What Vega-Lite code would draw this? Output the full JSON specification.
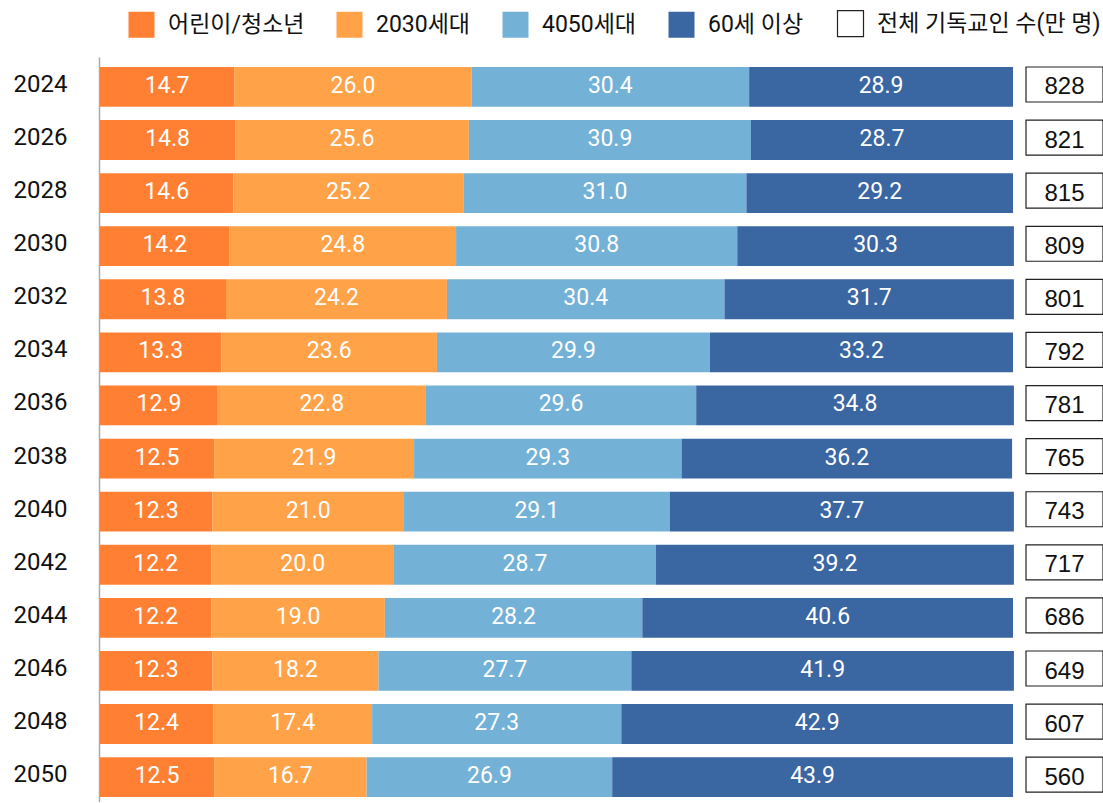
{
  "$schema": "https://vega.github.io/schema/vega-lite/v6.json",
  "padding": {"left": 13, "top": 12, "right": 1, "bottom": 0},
  "background": "white",
  "datasets": {
    "shares": [
      {"year": "2024", "group": "어린이/청소년", "o": 1, "v": 14.7},
      {"year": "2024", "group": "2030세대", "o": 2, "v": 26.0},
      {"year": "2024", "group": "4050세대", "o": 3, "v": 30.4},
      {"year": "2024", "group": "60세 이상", "o": 4, "v": 28.9},
      {"year": "2026", "group": "어린이/청소년", "o": 1, "v": 14.8},
      {"year": "2026", "group": "2030세대", "o": 2, "v": 25.6},
      {"year": "2026", "group": "4050세대", "o": 3, "v": 30.9},
      {"year": "2026", "group": "60세 이상", "o": 4, "v": 28.7},
      {"year": "2028", "group": "어린이/청소년", "o": 1, "v": 14.6},
      {"year": "2028", "group": "2030세대", "o": 2, "v": 25.2},
      {"year": "2028", "group": "4050세대", "o": 3, "v": 31.0},
      {"year": "2028", "group": "60세 이상", "o": 4, "v": 29.2},
      {"year": "2030", "group": "어린이/청소년", "o": 1, "v": 14.2},
      {"year": "2030", "group": "2030세대", "o": 2, "v": 24.8},
      {"year": "2030", "group": "4050세대", "o": 3, "v": 30.8},
      {"year": "2030", "group": "60세 이상", "o": 4, "v": 30.3},
      {"year": "2032", "group": "어린이/청소년", "o": 1, "v": 13.8},
      {"year": "2032", "group": "2030세대", "o": 2, "v": 24.2},
      {"year": "2032", "group": "4050세대", "o": 3, "v": 30.4},
      {"year": "2032", "group": "60세 이상", "o": 4, "v": 31.7},
      {"year": "2034", "group": "어린이/청소년", "o": 1, "v": 13.3},
      {"year": "2034", "group": "2030세대", "o": 2, "v": 23.6},
      {"year": "2034", "group": "4050세대", "o": 3, "v": 29.9},
      {"year": "2034", "group": "60세 이상", "o": 4, "v": 33.2},
      {"year": "2036", "group": "어린이/청소년", "o": 1, "v": 12.9},
      {"year": "2036", "group": "2030세대", "o": 2, "v": 22.8},
      {"year": "2036", "group": "4050세대", "o": 3, "v": 29.6},
      {"year": "2036", "group": "60세 이상", "o": 4, "v": 34.8},
      {"year": "2038", "group": "어린이/청소년", "o": 1, "v": 12.5},
      {"year": "2038", "group": "2030세대", "o": 2, "v": 21.9},
      {"year": "2038", "group": "4050세대", "o": 3, "v": 29.3},
      {"year": "2038", "group": "60세 이상", "o": 4, "v": 36.2},
      {"year": "2040", "group": "어린이/청소년", "o": 1, "v": 12.3},
      {"year": "2040", "group": "2030세대", "o": 2, "v": 21.0},
      {"year": "2040", "group": "4050세대", "o": 3, "v": 29.1},
      {"year": "2040", "group": "60세 이상", "o": 4, "v": 37.7},
      {"year": "2042", "group": "어린이/청소년", "o": 1, "v": 12.2},
      {"year": "2042", "group": "2030세대", "o": 2, "v": 20.0},
      {"year": "2042", "group": "4050세대", "o": 3, "v": 28.7},
      {"year": "2042", "group": "60세 이상", "o": 4, "v": 39.2},
      {"year": "2044", "group": "어린이/청소년", "o": 1, "v": 12.2},
      {"year": "2044", "group": "2030세대", "o": 2, "v": 19.0},
      {"year": "2044", "group": "4050세대", "o": 3, "v": 28.2},
      {"year": "2044", "group": "60세 이상", "o": 4, "v": 40.6},
      {"year": "2046", "group": "어린이/청소년", "o": 1, "v": 12.3},
      {"year": "2046", "group": "2030세대", "o": 2, "v": 18.2},
      {"year": "2046", "group": "4050세대", "o": 3, "v": 27.7},
      {"year": "2046", "group": "60세 이상", "o": 4, "v": 41.9},
      {"year": "2048", "group": "어린이/청소년", "o": 1, "v": 12.4},
      {"year": "2048", "group": "2030세대", "o": 2, "v": 17.4},
      {"year": "2048", "group": "4050세대", "o": 3, "v": 27.3},
      {"year": "2048", "group": "60세 이상", "o": 4, "v": 42.9},
      {"year": "2050", "group": "어린이/청소년", "o": 1, "v": 12.5},
      {"year": "2050", "group": "2030세대", "o": 2, "v": 16.7},
      {"year": "2050", "group": "4050세대", "o": 3, "v": 26.9},
      {"year": "2050", "group": "60세 이상", "o": 4, "v": 43.9}
    ],
    "totals": [
      {"year": "2024", "total": 828},
      {"year": "2026", "total": 821},
      {"year": "2028", "total": 815},
      {"year": "2030", "total": 809},
      {"year": "2032", "total": 801},
      {"year": "2034", "total": 792},
      {"year": "2036", "total": 781},
      {"year": "2038", "total": 765},
      {"year": "2040", "total": 743},
      {"year": "2042", "total": 717},
      {"year": "2044", "total": 686},
      {"year": "2046", "total": 649},
      {"year": "2048", "total": 607},
      {"year": "2050", "total": 560}
    ]
  },
  "hconcat": [
    {
      "width": 913,
      "height": 745,
      "data": {"name": "shares"},
      "transform": [
        {"stack": "v", "groupby": ["year"], "sort": [{"field": "o", "order": "ascending"}], "as": ["x0", "x1"]},
        {"calculate": "(datum.x0 + datum.x1) / 2", "as": "xm"}
      ],
      "encoding": {
        "y": {
          "field": "year",
          "type": "ordinal",
          "scale": {"paddingInner": 0.25, "paddingOuter": 0.141, "align": 0.667},
          "axis": {
            "title": null,
            "ticks": false,
            "labelFont": "Roboto",
            "labelFontSize": 24,
            "labelColor": "#111111",
            "labelPadding": 32,
            "labelOffset": -2,
            "domainColor": "#aaaaaa",
            "domainWidth": 1.5,
            "offset": 1,
            "grid": false
          }
        }
      },
      "layer": [
        {
          "mark": {"type": "bar", "strokeWidth": 0},
          "encoding": {
            "x": {"field": "x0", "type": "quantitative", "scale": {"domain": [0, 100], "nice": false, "zero": true}, "axis": null},
            "x2": {"field": "x1"},
            "color": {
              "field": "group",
              "type": "nominal",
              "scale": {
                "domain": ["어린이/청소년", "2030세대", "4050세대", "60세 이상", "전체 기독교인 수(만 명)"],
                "range": ["#FF8033", "#FFA248", "#73B1D7", "#3A66A2", "#ffffff"]
              },
              "legend": {
                "orient": "none",
                "legendX": 30,
                "legendY": -45,
                "direction": "horizontal",
                "title": null,
                "encode": {
                  "symbols": {
                    "update": {
                      "stroke": {"value": "#222222"},
                      "strokeWidth": {"signal": "datum.value === '전체 기독교인 수(만 명)' ? 1.2 : 0"}
                    }
                  }
                }
              }
            }
          }
        },
        {
          "mark": {"type": "text", "font": "Roboto", "fontSize": 23, "color": "white", "align": "center", "baseline": "middle", "dy": -1},
          "encoding": {
            "x": {"field": "xm", "type": "quantitative"},
            "text": {"field": "v", "type": "quantitative", "format": ".1f"}
          }
        }
      ]
    },
    {
      "width": 77,
      "height": 745,
      "data": {"name": "totals"},
      "encoding": {
        "y": {
          "field": "year",
          "type": "ordinal",
          "scale": {"paddingInner": 0.341, "paddingOuter": 0.1865, "align": 0.505},
          "axis": null
        }
      },
      "layer": [
        {
          "mark": {"type": "bar", "stroke": "#222222", "strokeWidth": 1.2},
          "encoding": {
            "x": {"datum": 0, "type": "quantitative", "scale": {"domain": [0, 1], "nice": false}, "axis": null},
            "x2": {"datum": 1},
            "color": {
              "datum": "전체 기독교인 수(만 명)",
              "type": "nominal",
              "scale": {
                "domain": ["어린이/청소년", "2030세대", "4050세대", "60세 이상", "전체 기독교인 수(만 명)"],
                "range": ["#FF8033", "#FFA248", "#73B1D7", "#3A66A2", "#ffffff"]
              },
              "legend": {
                "orient": "none",
                "legendX": 30,
                "legendY": -45,
                "direction": "horizontal",
                "title": null,
                "encode": {
                  "symbols": {
                    "update": {
                      "stroke": {"value": "#222222"},
                      "strokeWidth": {"signal": "datum.value === '전체 기독교인 수(만 명)' ? 1.2 : 0"}
                    }
                  }
                }
              }
            }
          }
        },
        {
          "mark": {"type": "text", "font": "Liberation Sans", "fontSize": 24, "color": "#111111", "align": "center", "baseline": "middle", "dy": 3},
          "encoding": {
            "x": {"datum": 0.5, "type": "quantitative"},
            "text": {"field": "total", "type": "quantitative"}
          }
        }
      ]
    }
  ],
  "spacing": 11,
  "resolve": {
    "scale": {"y": "independent", "x": "independent", "color": "shared"},
    "legend": {"color": "shared"}
  },
  "config": {
    "view": {"stroke": null},
    "font": "Roboto, 'Noto Sans CJK KR'",
    "legend": {
      "symbolType": "square",
      "symbolSize": 676,
      "symbolStrokeWidth": 0,
      "symbolOpacity": 1,
      "labelFont": "Roboto, 'Noto Sans CJK KR'",
      "labelFontSize": 23,
      "labelColor": "#111111",
      "labelOffset": 15,
      "labelLimit": 400,
      "columnPadding": 31,
      "padding": 0
    }
  }
}
